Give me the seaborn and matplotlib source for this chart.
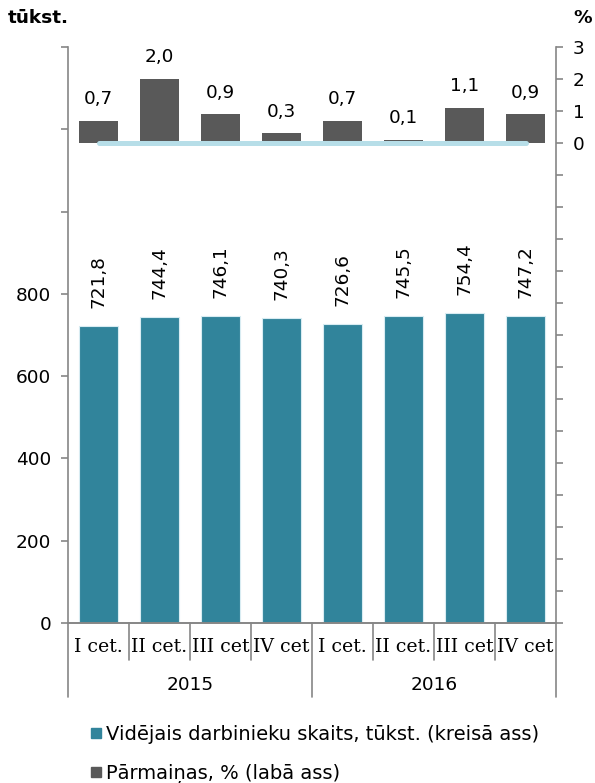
import matplotlib
matplotlib.use("Agg")
import matplotlib.pyplot as plt
import matplotlib.transforms as mtransforms
from matplotlib.lines import Line2D
import numpy as np
import pandas as pd
import seaborn as sns

# data
years = ["2015", "2016"]
quarters = ["I cet.", "II cet.", "III cet", "IV cet"]
employees = [721.8, 744.4, 746.1, 740.3, 726.6, 745.5, 754.4, 747.2]
change_pct = [0.7, 2.0, 0.9, 0.3, 0.7, 0.1, 1.1, 0.9]
zero_line = [0, 0, 0, 0, 0, 0, 0, 0]

teal = "#31849b"
dark = "#595959"
light = "#b7dee8"
grey = "#868686"
fs = 13.3

sns.set_theme(style="white")
plt.rcParams["font.family"] = ["DejaVu Sans"]
plt.rcParams["text.color"] = "black"
plt.rcParams["ytick.labelcolor"] = "black"

keys = [f"{y} {q}" for y in years for q in quarters]
df = pd.DataFrame({"key": keys, "employees": employees, "change": change_pct})
pos = np.arange(len(keys))

fig = plt.figure(figsize=(5.95, 7.83), dpi=100)
ax = fig.add_axes([68 / 595, 1 - 623 / 783, (556 - 68) / 595, 576 / 783])

sns.barplot(data=df, x="key", y="employees", ax=ax, color=teal, saturation=1,
            width=0.63, edgecolor="#d8ecf2", linewidth=0.8)
ax.set_ylim(0, 1400)
ax.set_xlim(-0.5, 7.5)
ax.set_yticks(np.arange(0, 1401, 200))
ax.set_yticklabels(["0", "200", "400", "600", "800", "", "", ""])
ax.set_xticks([])
ax.set_xlabel("")
ax.set_ylabel("")
ax.bar_label(ax.containers[0], labels=[f"{v:.1f}".replace(".", ",") for v in employees],
             rotation=90, padding=13, fontsize=fs, color="black")

ax2 = ax.twinx()
sns.barplot(data=df, x="key", y="change", ax=ax2, color=dark, saturation=1,
            width=0.63, linewidth=0)
ax2.bar_label(ax2.containers[0], labels=[f"{v:.1f}".replace(".", ",") for v in change_pct],
              padding=9, fontsize=fs, color="black")
sns.lineplot(x=pos, y=zero_line, ax=ax2, color=light, linewidth=3.6,
             solid_capstyle="round")
ax2.set_ylim(-15, 3)
ax2.set_xlim(-0.5, 7.5)
ax2.set_yticks(np.arange(-15, 4, 1))
ax2.set_yticklabels(["" if v < 0 else str(v) for v in range(-15, 4)])
ax2.set_xticks([])
ax2.set_xlabel("")
ax2.set_ylabel("")

for a in (ax, ax2):
    a.spines["top"].set_visible(False)
    for side in ("left", "right", "bottom"):
        a.spines[side].set_color(grey)
        a.spines[side].set_linewidth(1.2)
    a.tick_params(axis="y", length=5, width=1.2, color=grey, labelsize=fs,
                  labelcolor="black", pad=7)
ax.spines["right"].set_visible(False)
ax2.spines["left"].set_visible(False)
ax.tick_params(axis="y", left=True)
ax2.tick_params(axis="y", right=True, left=False)

# multi-level category axis
trans = mtransforms.blended_transform_factory(ax.transData, ax.transAxes)
for b in np.arange(-0.5, 8, 1.0):
    depth = -0.1285 if b in (-0.5, 3.5, 7.5) else -0.0642
    ax.plot([b, b], [0, depth], transform=trans, color=grey, lw=1.2, clip_on=False)
for i, k in enumerate(keys):
    ax.text(i, -0.0417, quarters[i % 4], transform=trans, ha="center", va="center",
            fontsize=13.6, family="DejaVu Serif", color="black")
for j, y in enumerate(years):
    ax.text(j * 4 + 1.5, -0.1076, y, transform=trans, ha="center", va="center",
            fontsize=fs, color="black")

fig.text(8 / 595, 1 - 18 / 783, "tūkst.", fontsize=fs, fontweight="bold",
         ha="left", va="center")
fig.text(592 / 595, 1 - 18 / 783, "%", fontsize=fs, fontweight="bold",
         ha="right", va="center")

handles = [
    Line2D([], [], marker="s", linestyle="", color=teal, markersize=7.5),
    Line2D([], [], marker="s", linestyle="", color=dark, markersize=7.5),
]
labels = ["Vidējais darbinieku skaits, tūkst. (kreisā ass)", "Pārmaiņas, % (labā ass)"]
fig.legend(handles, labels, loc="upper left", bbox_to_anchor=(89 / 595, 1 - 724.5 / 783),
           frameon=False, fontsize=14, handlelength=0.7, handletextpad=0.2,
           labelspacing=1.06, borderpad=0, borderaxespad=0)

fig.savefig("out.png", dpi=100)
